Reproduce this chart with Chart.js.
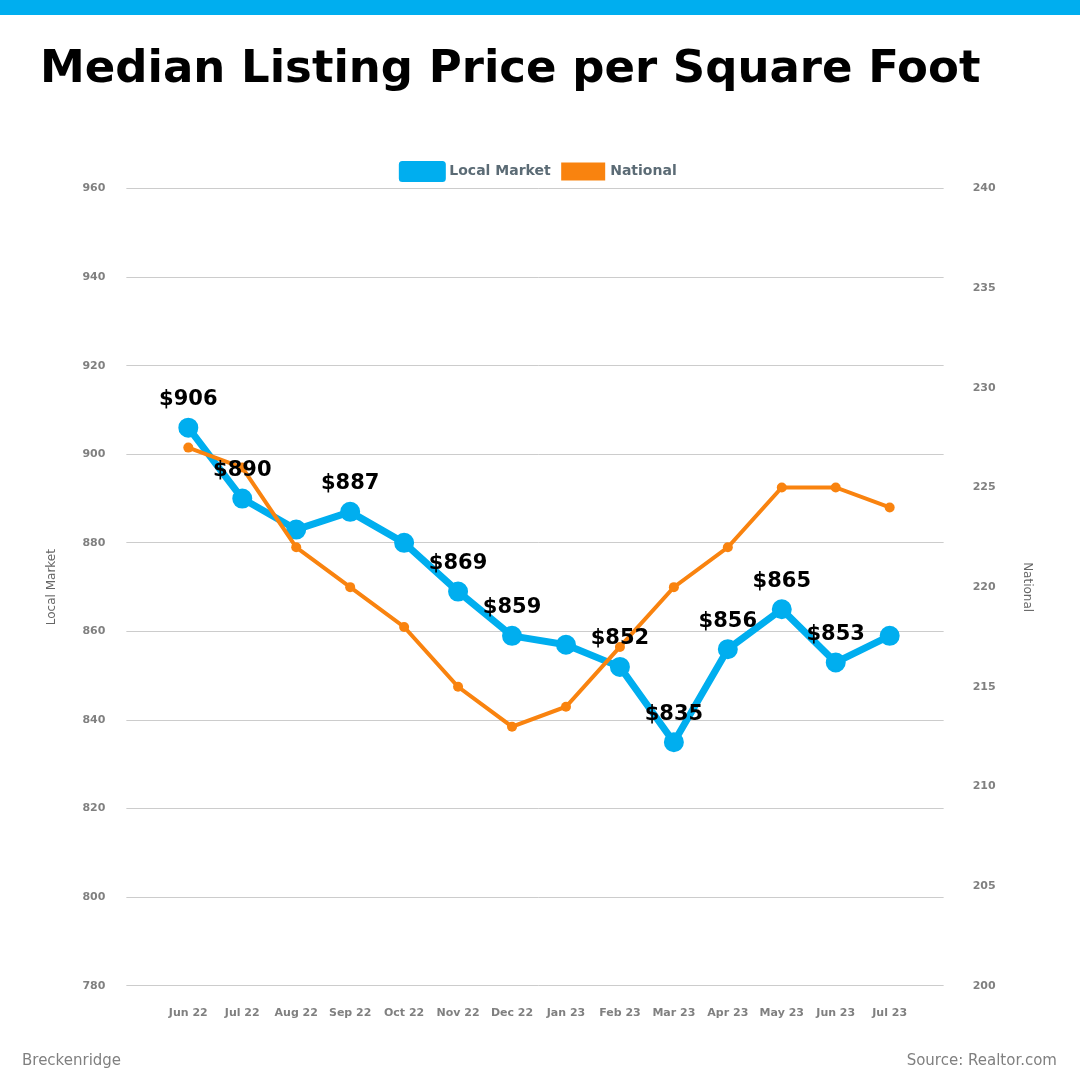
<!DOCTYPE html>
<html>
<head>
<meta charset="utf-8">
<title>Median Listing Price per Square Foot</title>
<script src="https://cdn.jsdelivr.net/npm/chart.js@4.4.1/dist/chart.umd.min.js"></script>
<style>
  body { margin: 0; background: #fff; font-family: 'DejaVu Sans', sans-serif; }
  #wrap { position: relative; width: 1080px; height: 1080px; overflow: hidden; background: #fff; }
  #bar { position: absolute; left: 0; top: 0; width: 1080px; height: 15px; background: #00AEEF; }
  #titulo { position: absolute; left: 40px; top: 39px; font-size: 45px; font-weight: bold; line-height: 56px; color: #000; white-space: nowrap; }
  #grafico { position: absolute; left: 0; top: 0; }
  .rodape { position: absolute; top: 1049px; font-size: 15px; line-height: 22px; color: #808080; }
</style>
</head>
<body>
<div id="wrap">
  <div id="bar"></div>
  <canvas id="grafico" width="1080" height="1080"></canvas>
  <div id="titulo">Median Listing Price per Square Foot</div>
  <div class="rodape" style="left:22px">Breckenridge</div>
  <div class="rodape" style="right:23px">Source: Realtor.com</div>
</div>
<script>
// dados
var meses = ['Jun 22', 'Jul 22', 'Aug 22', 'Sep 22', 'Oct 22', 'Nov 22', 'Dec 22',
             'Jan 23', 'Feb 23', 'Mar 23', 'Apr 23', 'May 23', 'Jun 23', 'Jul 23'];
var mercadoLocal = [906, 890, 883, 887, 880, 869, 859, 857, 852, 835, 856, 865, 853, 859];
var nacional = [227, 226, 222, 220, 218, 215, 213, 214, 217, 220, 222, 225, 225, 224];
// rótulos que aparecem sobre os pontos (vazio = sem rótulo)
var rotulosLocal = ['$906', '$890', '', '$887', '', '$869', '$859',
                    '', '$852', '$835', '$856', '$865', '$853', ''];
var ticksLocal = [780, 800, 820, 840, 860, 880, 900, 920, 940, 960];
var ticksNacional = [200, 205, 210, 215, 220, 225, 230, 235, 240];

var azul = '#00AEEF';
var laranja = '#F9830F';
var cinza = '#808080';

Chart.defaults.font.family = "'DejaVu Sans', sans-serif";

// uma categoria vazia em cada ponta, como no original
var rotulosX = [''].concat(meses, ['']);
var serieLocal = [null].concat(mercadoLocal, [null]);
var serieNacional = [null].concat(nacional, [null]);
var textosPontos = [''].concat(rotulosLocal, ['']);

// desenha os valores acima dos pontos azuis
var rotulosPlugin = {
    id: 'rotulos',
    afterDatasetsDraw: function(chart) {
        var ctx = chart.ctx;
        var meta = chart.getDatasetMeta(0);
        ctx.save();
        ctx.font = "bold 21px 'DejaVu Sans'";
        ctx.fillStyle = '#000';
        ctx.textAlign = 'center';
        ctx.textBaseline = 'middle';
        meta.data.forEach(function(pt, i) {
            var t = textosPontos[i];
            if (!t) return;
            ctx.fillText(t, pt.x, pt.y - 28);
        });
        ctx.restore();
    }
};

var grafico = new Chart(document.getElementById('grafico').getContext('2d'), {
    type: 'line',
    data: {
        labels: rotulosX,
        datasets: [{
            label: 'Local Market',
            data: serieLocal,
            yAxisID: 'y',
            borderColor: azul,
            backgroundColor: azul,
            borderWidth: 7,
            borderJoinStyle: 'round',
            pointRadius: 9,
            pointBorderWidth: 2,
            pointBackgroundColor: azul,
            pointBorderColor: azul,
            order: 2
        }, {
            label: 'National',
            data: serieNacional,
            yAxisID: 'y2',
            borderColor: laranja,
            backgroundColor: laranja,
            borderWidth: 4,
            pointRadius: 5,
            pointBorderWidth: 0,
            pointBackgroundColor: laranja,
            order: 1
        }]
    },
    options: {
        responsive: false,
        devicePixelRatio: 1,
        animation: false,
        layout: { padding: { left: 45, right: 46, top: 152, bottom: 39 } },
        plugins: {
            tooltip: { enabled: false },
            legend: {
                position: 'top',
                labels: {
                    boxWidth: 40,
                    boxHeight: 14,
                    padding: 12.5,
                    color: '#5b6b75',
                    font: { size: 14, weight: 'bold' },
                    sort: function(a, b) { return a.datasetIndex - b.datasetIndex; }
                }
            }
        },
        scales: {
            x: {
                grid: { display: false, drawTicks: false },
                border: { display: false },
                ticks: {
                    color: cinza,
                    font: { size: 11, weight: 'bold' },
                    padding: 21,
                    maxRotation: 0,
                    autoSkip: false
                }
            },
            y: {
                position: 'left',
                min: ticksLocal[0],
                max: ticksLocal[ticksLocal.length - 1],
                afterBuildTicks: function(s) { s.ticks = ticksLocal.map(function(v) { return { value: v }; }); },
                grid: { color: '#cccccc', lineWidth: 1, drawTicks: true, tickLength: 8 },
                border: { display: false },
                ticks: { color: cinza, font: { size: 11, weight: 'bold' }, padding: 21 },
                title: { display: true, text: 'Local Market', color: '#666', font: { size: 12 }, padding: { top: 0, bottom: 2 } }
            },
            y2: {
                position: 'right',
                min: ticksNacional[0],
                max: ticksNacional[ticksNacional.length - 1],
                afterBuildTicks: function(s) { s.ticks = ticksNacional.map(function(v) { return { value: v }; }); },
                grid: { display: false, drawOnChartArea: false, drawTicks: false },
                border: { display: false },
                ticks: { color: cinza, font: { size: 11, weight: 'bold' }, padding: 29 },
                title: { display: true, text: 'National', color: '#666', font: { size: 12 }, padding: { top: 0, bottom: -5 } }
            }
        }
    },
    plugins: [rotulosPlugin]
});
</script>
</body>
</html>
